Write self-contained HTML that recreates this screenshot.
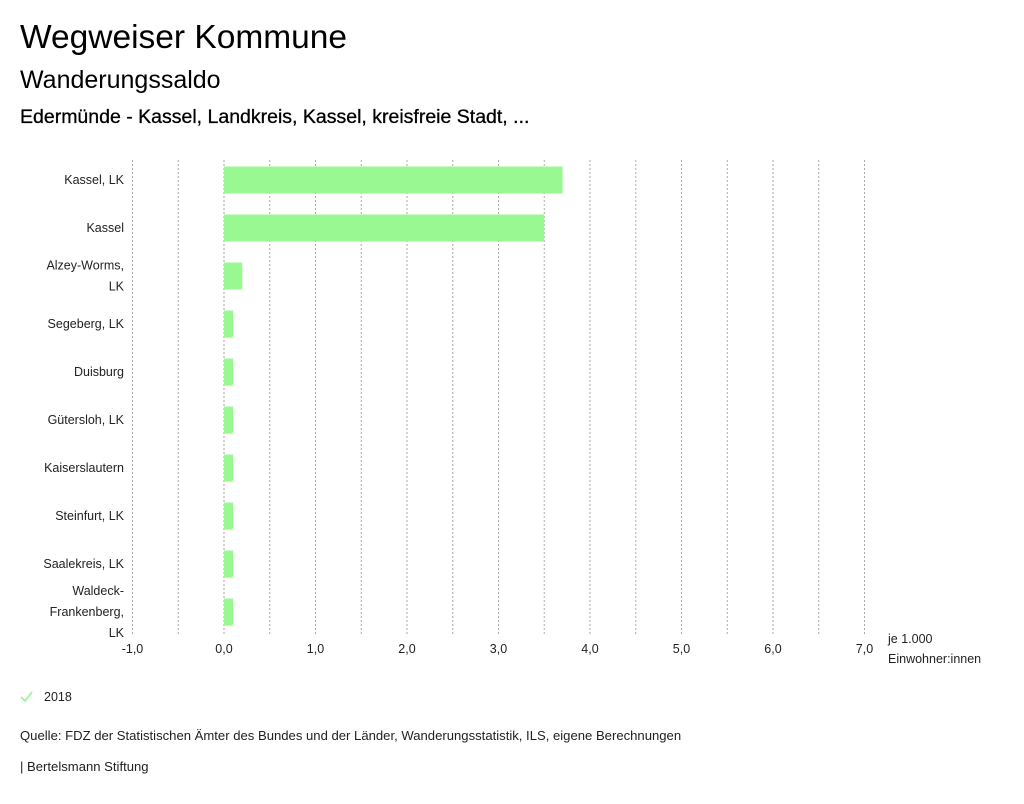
<!DOCTYPE html>
<html><head><meta charset="utf-8"><style>
body{margin:0;background:#fff;font-family:"Liberation Sans",sans-serif;}
svg text{font-family:"Liberation Sans",sans-serif;}
</style></head><body>
<svg width="1024" height="799" xmlns="http://www.w3.org/2000/svg">
<text x="20" y="48" font-size="33.5" fill="#000">Wegweiser Kommune</text>
<text x="20" y="88" font-size="25" fill="#000">Wanderungssaldo</text>
<text x="20" y="123" font-size="19.5" fill="#000" stroke="#000" stroke-width="0.3">Edermünde - Kassel, Landkreis, Kassel, kreisfreie Stadt, ...</text>
<g id="grid"></g><g id="bars"></g><g id="ylabels"></g><g id="xlabels"></g>
<text x="888" y="643" font-size="12.5" fill="#222">je 1.000</text>
<text x="888" y="663" font-size="12.5" fill="#222">Einwohner:innen</text>
<g>
<path d="M21 697 L25 701 L32 692" stroke="#9af893" stroke-width="1.8" fill="none"/>
<text x="44" y="701" font-size="12.5" fill="#222">2018</text>
</g>
<text x="20" y="740" font-size="13.1" fill="#222">Quelle: FDZ der Statistischen Ämter des Bundes und der Länder, Wanderungsstatistik, ILS, eigene Berechnungen</text>
<text x="20" y="771" font-size="13.1" fill="#222">| Bertelsmann Stiftung</text>
</svg>
<script>
const categories=[["Kassel, LK"],["Kassel"],["Alzey-Worms,","LK"],["Segeberg, LK"],["Duisburg"],["Gütersloh, LK"],["Kaiserslautern"],["Steinfurt, LK"],["Saalekreis, LK"],["Waldeck-","Frankenberg,","LK"]];
const values=[3.7,3.5,0.2,0.1,0.1,0.1,0.1,0.1,0.1,0.1];
const ticks=[-1,0,1,2,3,4,5,6,7];
const tickLabels=["-1,0","0,0","1,0","2,0","3,0","4,0","5,0","6,0","7,0"];
const NS="http://www.w3.org/2000/svg";
const xs=v=>224+(v)*91.5;
const ys=i=>180+i*48;
const plotTop=160,plotBottom=636;
const g=document.getElementById('grid'),b=document.getElementById('bars'),yl=document.getElementById('ylabels'),xl=document.getElementById('xlabels');
for(let v=-1;v<=7.001;v+=0.5){const l=document.createElementNS(NS,'line');


l.setAttribute('x1',xs(v));l.setAttribute('x2',xs(v));l.setAttribute('y1',plotTop);l.setAttribute('y2',plotBottom);
l.setAttribute('stroke','#aaa');l.setAttribute('stroke-dasharray','2,2');g.appendChild(l);}
ticks.forEach((t,i)=>{const tx=document.createElementNS(NS,'text');


tx.setAttribute('x',xs(t));tx.setAttribute('y',653);tx.setAttribute('text-anchor','middle');tx.setAttribute('font-size','12.5');tx.setAttribute('fill','#222');tx.textContent=tickLabels[i];xl.appendChild(tx);});
values.forEach((v,i)=>{const r=document.createElementNS(NS,'rect');


r.setAttribute('x',Math.min(xs(0),xs(v)));r.setAttribute('width',Math.abs(xs(v)-xs(0)));r.setAttribute('y',ys(i)-13.5);r.setAttribute('height',27);r.setAttribute('fill','#9af893');b.appendChild(r);
const lines=categories[i];const n=lines.length;
lines.forEach((s,k)=>{const t=document.createElementNS(NS,'text');


t.setAttribute('x',124);t.setAttribute('y',ys(i)+4+(k-(n-1)/2)*21);t.setAttribute('text-anchor','end');t.setAttribute('font-size','12.5');t.setAttribute('fill','#222');t.textContent=s;yl.appendChild(t);});});
</script>
</body></html>
